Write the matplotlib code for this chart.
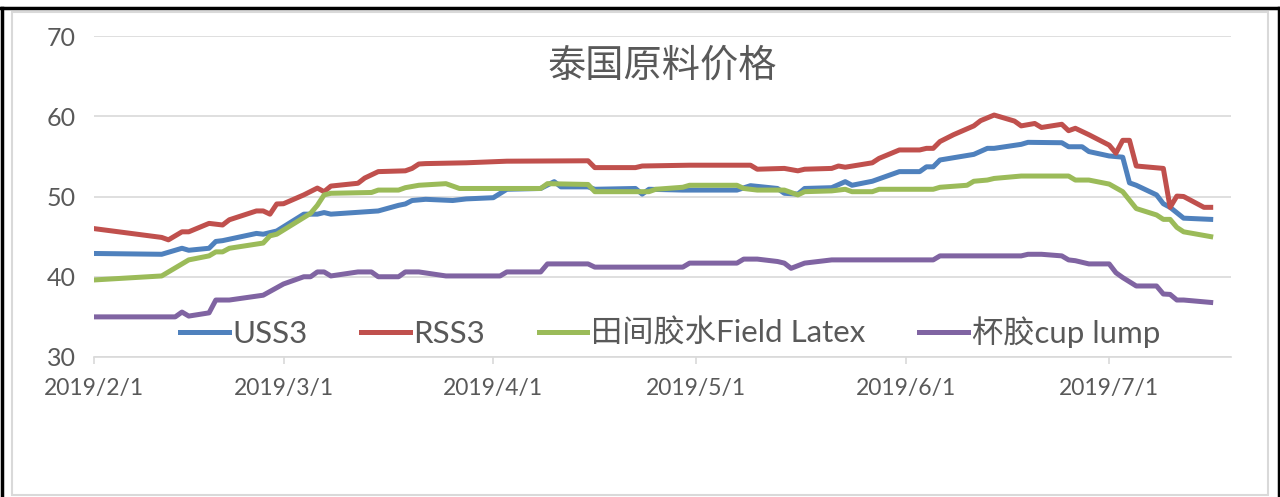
import matplotlib
matplotlib.use('Agg')
import matplotlib.pyplot as plt
from matplotlib.lines import Line2D
from matplotlib.patches import Rectangle
import pandas as pd

# 泰国原料价格 - values
uss3_dates = ['02-01', '02-11', '02-14', '02-15', '02-18', '02-19', '02-20', '02-25', '02-26',
              '02-28', '03-04', '03-06', '03-07', '03-08', '03-15', '03-18', '03-19', '03-20',
              '03-22', '03-26', '03-28', '04-01', '04-03', '04-08', '04-10', '04-11', '04-15',
              '04-16', '04-22', '04-23', '04-24', '04-29', '05-07', '05-09', '05-13', '05-14',
              '05-16', '05-17', '05-21', '05-23', '05-24', '05-27', '05-31', '06-03', '06-04',
              '06-05', '06-06', '06-11', '06-13', '06-14', '06-18', '06-19', '06-24', '06-25',
              '06-27', '06-28', '07-01', '07-03', '07-04', '07-05', '07-08', '07-09', '07-10',
              '07-12', '07-16']
uss3 = [42.9, 42.8, 43.55, 43.3, 43.55, 44.4, 44.5, 45.4, 45.3,
        45.7, 47.8, 47.8, 48.0, 47.8, 48.2, 48.9, 49.07, 49.5,
        49.65, 49.5, 49.7, 49.85, 50.9, 51.0, 51.85, 51.2, 51.2,
        50.9, 51.0, 50.3, 50.9, 50.8, 50.8, 51.35, 51.0, 50.4,
        50.3, 51.0, 51.1, 51.85, 51.4, 51.9, 53.1, 53.1, 53.7,
        53.7, 54.55, 55.25, 56.0, 56.0, 56.5, 56.75, 56.7, 56.2,
        56.2, 55.6, 55.05, 54.9, 51.7, 51.4, 50.2, 49.1, 48.65,
        47.3, 47.15]

rss3_dates = ['02-01', '02-11', '02-12', '02-14', '02-15', '02-18', '02-20', '02-21', '02-25',
              '02-26', '02-27', '02-28', '03-01', '03-04', '03-06', '03-07', '03-08', '03-12',
              '03-13', '03-15', '03-19', '03-20', '03-21', '03-22', '03-28', '04-03', '04-15',
              '04-16', '04-22', '04-23', '04-30', '05-09', '05-10', '05-14', '05-16', '05-17',
              '05-21', '05-22', '05-23', '05-27', '05-28', '05-31', '06-03', '06-04', '06-05',
              '06-06', '06-08', '06-11', '06-12', '06-14', '06-17', '06-18', '06-20', '06-21',
              '06-24', '06-25', '06-26', '06-28', '07-01', '07-02', '07-03', '07-04', '07-05',
              '07-09', '07-10', '07-11', '07-12', '07-15', '07-16']
rss3 = [46.0, 44.9, 44.6, 45.6, 45.6, 46.65, 46.45, 47.1, 48.2,
        48.2, 47.8, 49.07, 49.1, 50.2, 51.05, 50.6, 51.3, 51.65,
        52.3, 53.1, 53.2, 53.5, 54.05, 54.1, 54.2, 54.4, 54.45,
        53.6, 53.6, 53.8, 53.9, 53.9, 53.4, 53.5, 53.2, 53.4,
        53.5, 53.8, 53.65, 54.2, 54.75, 55.8, 55.8, 56.0, 56.0,
        56.85, 57.7, 58.8, 59.45, 60.15, 59.4, 58.8, 59.1, 58.6,
        59.0, 58.2, 58.5, 57.7, 56.4, 55.4, 57.0, 57.0, 53.8,
        53.5, 48.65, 50.05, 50.0, 48.65, 48.65]

latex_dates = ['02-01', '02-11', '02-15', '02-18', '02-19', '02-20', '02-21', '02-26', '02-27',
               '02-28', '03-05', '03-06', '03-07', '03-08', '03-14', '03-15', '03-18', '03-19',
               '03-21', '03-25', '03-27', '04-08', '04-09', '04-15', '04-16', '04-24', '04-25',
               '04-29', '04-30', '05-07', '05-08', '05-10', '05-14', '05-16', '05-17', '05-21',
               '05-23', '05-24', '05-27', '05-28', '06-05', '06-06', '06-10', '06-11', '06-13',
               '06-14', '06-18', '06-25', '06-26', '06-28', '07-01', '07-03', '07-05', '07-08',
               '07-09', '07-10', '07-11', '07-12', '07-16']
latex = [39.6, 40.1, 42.1, 42.6, 43.1, 43.1, 43.55, 44.2, 45.1,
         45.3, 47.9, 48.9, 50.2, 50.4, 50.5, 50.8, 50.8, 51.1,
         51.4, 51.6, 51.0, 51.0, 51.6, 51.5, 50.6, 50.6, 50.9,
         51.15, 51.4, 51.4, 51.0, 50.8, 50.8, 50.2, 50.6, 50.7,
         50.9, 50.6, 50.6, 50.9, 50.9, 51.15, 51.4, 51.9, 52.05,
         52.25, 52.55, 52.55, 52.05, 52.05, 51.55, 50.6, 48.5, 47.7,
         47.15, 47.15, 46.15, 45.6, 45.0]

cup_dates = ['02-01', '02-13', '02-14', '02-15', '02-18', '02-19', '02-21', '02-26', '03-01',
             '03-04', '03-05', '03-06', '03-07', '03-08', '03-12', '03-14', '03-15', '03-18',
             '03-19', '03-21', '03-25', '04-02', '04-03', '04-08', '04-09', '04-15', '04-16',
             '04-29', '04-30', '05-07', '05-08', '05-10', '05-13', '05-14', '05-15', '05-17',
             '05-21', '06-05', '06-06', '06-18', '06-19', '06-21', '06-24', '06-25', '06-26',
             '06-28', '07-01', '07-02', '07-03', '07-05', '07-08', '07-09', '07-10', '07-11',
             '07-12', '07-16']
cup = [35.0, 35.0, 35.6, 35.1, 35.5, 37.1, 37.1, 37.7, 39.1,
       40.0, 40.0, 40.6, 40.6, 40.1, 40.6, 40.6, 40.0, 40.0,
       40.6, 40.6, 40.1, 40.1, 40.6, 40.6, 41.6, 41.6, 41.2,
       41.2, 41.7, 41.7, 42.2, 42.2, 41.9, 41.7, 41.05, 41.7,
       42.1, 42.1, 42.6, 42.6, 42.8, 42.8, 42.6, 42.1, 42.0,
       41.6, 41.6, 40.5, 39.9, 38.85, 38.85, 37.85, 37.8, 37.1,
       37.1, 36.8]

month_ticks = ['2019-02-01', '2019-03-01', '2019-04-01', '2019-05-01', '2019-06-01', '2019-07-01']
month_labels = ['2019/2/1', '2019/3/1', '2019/4/1', '2019/5/1', '2019/6/1', '2019/7/1']
y_ticks = [30, 40, 50, 60, 70]

def to_dates(md):
    return pd.to_datetime(['2019-' + s for s in md])

plt.rcParams['font.family'] = ['Lato', 'Noto Sans CJK SC', 'DejaVu Sans']
grey = '#595959'
grid = '#d9d9d9'

fig = plt.figure(figsize=(12.8, 4.97), dpi=100)
W, H = 1280.0, 497.0
ax = fig.add_axes([94 / W, 1 - 357 / H, (1231 - 94) / W, (357 - 36) / H])

ax.plot(to_dates(uss3_dates), uss3, color='#4F81BD', lw=3.6, label='USS3', solid_joinstyle='round')
ax.plot(to_dates(rss3_dates), rss3, color='#C0504D', lw=3.6, label='RSS3', solid_joinstyle='round')
ax.plot(to_dates(latex_dates), latex, color='#9BBB59', lw=3.6, label='田间胶水Field Latex', solid_joinstyle='round')
ax.plot(to_dates(cup_dates), cup, color='#8064A2', lw=3.6, label='杯胶cup lump', solid_joinstyle='round')

ax.set_xlim(pd.Timestamp('2019-02-01'), pd.Timestamp('2019-07-19'))
ax.set_ylim(30, 70)
ax.set_yticks(y_ticks)
ax.set_xticks(pd.to_datetime(month_ticks))
ax.set_xticklabels(month_labels)
ax.grid(axis='y', color=grid, lw=1.2)
ax.set_axisbelow(True)
for s in ['left', 'right', 'top']:
    ax.spines[s].set_visible(False)
ax.spines['bottom'].set_color(grid)
ax.spines['bottom'].set_linewidth(1.2)
ax.tick_params(axis='y', length=0, pad=13, labelsize=18, labelcolor=grey)
ax.tick_params(axis='x', length=5, width=1.2, color=grid, pad=10, labelsize=16.5, labelcolor=grey)

fig.text(662 / W, 1 - 66 / H, '泰国原料价格', ha='center', va='center', fontsize=27.5,
         color=grey, family=['Noto Sans CJK SC'])

leg = ax.legend(loc='center', bbox_to_anchor=(670 / W, 1 - 332 / H), bbox_transform=fig.transFigure,
                ncol=4, frameon=False, fontsize=22.5, handlelength=1.55, handletextpad=0.12,
                columnspacing=1.72, borderpad=0)
for t in leg.get_texts():
    t.set_color(grey)

# chart frame
fig.add_artist(Rectangle((12 / W, 2 / H), (1268 - 12) / W, (497 - 12 - 2) / H, transform=fig.transFigure,
                         fill=False, edgecolor=grid, lw=1.5))
fig.add_artist(Line2D([0, 1], [1 - 7.5 / H, 1 - 7.5 / H], transform=fig.transFigure, color='black', lw=2.5))
fig.add_artist(Line2D([1.5 / W, 1.5 / W], [0, 1 - 7.5 / H], transform=fig.transFigure, color='black', lw=2.5))
fig.add_artist(Line2D([1 - 1.5 / W, 1 - 1.5 / W], [0, 1 - 7.5 / H], transform=fig.transFigure, color='black', lw=2.5))

fig.savefig('out.png', dpi=100, facecolor='white')
